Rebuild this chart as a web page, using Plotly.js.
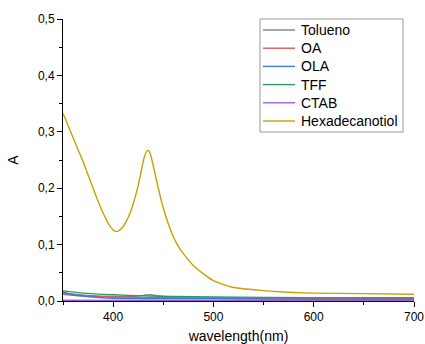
<!DOCTYPE html>
<html>
<head>
<meta charset="utf-8">
<script src="https://cdn.plot.ly/plotly-3.0.1.min.js"></script>
<style>html,body{margin:0;padding:0;background:#fff;}#chart{width:425px;height:344px;}</style>
</head>
<body>
<div id="chart"></div>
<script>
// Series names
const seriesNames = ["Tolueno", "OA", "OLA", "TFF", "CTAB", "Hexadecanotiol"];

// Wavelengths (nm) and absorbance values
const tolX = [350, 375, 400, 420, 430, 437, 445, 460, 500, 600, 700];
const tolY = [0.014, 0.010, 0.008, 0.008, 0.010, 0.011, 0.009, 0.006, 0.005, 0.004, 0.004];

const oaX = [350, 370, 400, 450, 500, 600, 700];
const oaY = [0.012, 0.009, 0.007, 0.006, 0.005, 0.004, 0.004];

const olaX = [350, 360, 380, 400, 450, 500, 600, 700];
const olaY = [0.016, 0.011, 0.007, 0.005, 0.004, 0.004, 0.003, 0.003];

const tffX = [350, 370, 400, 430, 460, 500, 600, 700];
const tffY = [0.018, 0.014, 0.011, 0.009, 0.008, 0.007, 0.006, 0.006];

const ctabX = [350, 400, 500, 600, 700];
const ctabY = [0.0012, 0.001, 0.001, 0.001, 0.001];

const hexX = [350, 360, 370, 380, 385, 390, 395, 400, 403, 406, 410, 415, 420, 425, 428, 431, 434, 436, 438, 441, 445, 450, 455, 460, 465, 470, 480, 490, 500, 510, 520, 540, 560, 580, 600, 650, 700];
const hexY = [0.333, 0.290, 0.247, 0.200, 0.177, 0.156, 0.138, 0.126, 0.123, 0.125, 0.132, 0.148, 0.172, 0.205, 0.230, 0.255, 0.267, 0.265, 0.255, 0.232, 0.200, 0.165, 0.137, 0.114, 0.097, 0.084, 0.063, 0.048, 0.036, 0.029, 0.024, 0.020, 0.017, 0.015, 0.014, 0.013, 0.012];

const colors = ["#808080", "#e05a5a", "#3a7dd4", "#2e9a62", "#a05ce0", "#c9a000"];
const xs = [tolX, oaX, olaX, tffX, ctabX, hexX];
const ys = [tolY, oaY, olaY, tffY, ctabY, hexY];

const traces = seriesNames.map((n, i) => ({
  x: xs[i], y: ys[i], name: n, type: "scatter", mode: "lines",
  line: {color: colors[i], width: 1.4, shape: "spline", smoothing: 0.6}
}));

const font = {family: "Liberation Sans, Arial, sans-serif", color: "#000"};

// Legend drawn in paper coordinates (compact Origin-style box)
const W = 425, H = 344, mL = 63, mR = 11, mT = 19, mB = 43;
const pw = W - mL - mR, ph = H - mT - mB;
const px = v => (v - mL) / pw;
const py = v => (H - mB - v) / ph;
const shapes = [{
  type: "rect", xref: "paper", yref: "paper",
  x0: px(260), x1: px(403), y0: py(132), y1: py(19),
  line: {color: "#999", width: 1}, fillcolor: "#fff", layer: "above"
}];
const annotations = [];
seriesNames.forEach((n, i) => {
  const yc = 30 + 18.2 * i;
  shapes.push({type: "line", xref: "paper", yref: "paper",
    x0: px(263), x1: px(295), y0: py(yc), y1: py(yc),
    line: {color: colors[i], width: 1.4}, layer: "above"});
  annotations.push({xref: "paper", yref: "paper", x: px(299), y: py(yc),
    xanchor: "left", yanchor: "middle", showarrow: false, text: n,
    font: Object.assign({size: 14}, font)});
});

const layout = {
  width: W, height: H,
  margin: {l: mL, r: mR, t: mT, b: mB},
  paper_bgcolor: "#fff", plot_bgcolor: "#fff",
  separators: ",.",
  font: Object.assign({size: 12}, font),
  showlegend: false,
  shapes: shapes,
  annotations: annotations,
  xaxis: {
    range: [350, 700], showline: true, linecolor: "#000", linewidth: 1,
    showgrid: false, zeroline: false,
    ticks: "outside", ticklen: 5, tickcolor: "#000", dtick: 100, tick0: 400,
    minor: {dtick: 50, ticks: "outside", ticklen: 3, tickcolor: "#000"},
    tickfont: Object.assign({size: 12}, font),
    title: {text: "wavelength(nm)", font: Object.assign({size: 14}, font), standoff: 17}
  },
  yaxis: {
    range: [0, 0.5], showline: true, linecolor: "#000", linewidth: 1,
    showgrid: false, zeroline: false,
    ticks: "outside", ticklen: 5, tickcolor: "#000", dtick: 0.1, tickformat: ".1f",
    minor: {dtick: 0.05, ticks: "outside", ticklen: 3, tickcolor: "#000"},
    tickfont: Object.assign({size: 12}, font),
    title: {text: "A", font: Object.assign({size: 14}, font), standoff: 16}
  }
};

Plotly.newPlot("chart", traces, layout, {displayModeBar: false, staticPlot: true});
</script>
</body>
</html>
